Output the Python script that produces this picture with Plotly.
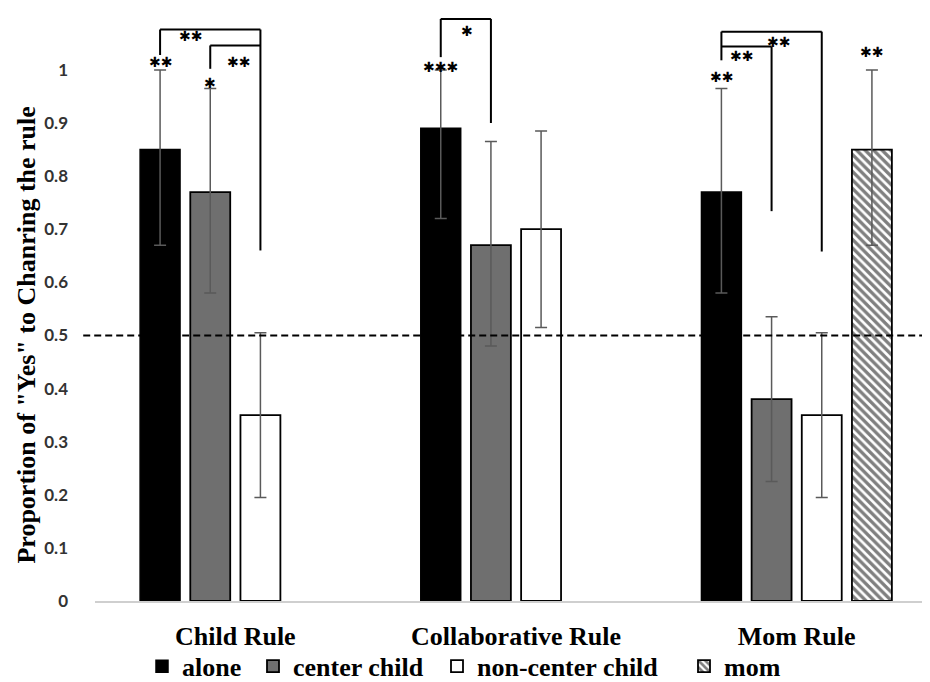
import plotly.graph_objects as go

categories = ["Child Rule", "Collaborative Rule", "Mom Rule"]
series_names = ["alone", "center child", "non-center child", "mom"]
alone = [0.85, 0.89, 0.77]
center_child = [0.77, 0.67, 0.38]
non_center_child = [0.35, 0.70, 0.35]
mom = [None, None, 0.85]
alone_err_plus = [0.15, 0.11, 0.195]
alone_err_minus = [0.18, 0.17, 0.19]
center_err_plus = [0.195, 0.195, 0.155]
center_err_minus = [0.19, 0.19, 0.155]
non_center_err_plus = [0.155, 0.185, 0.155]
non_center_err_minus = [0.155, 0.185, 0.155]
mom_err_plus = [None, None, 0.15]
mom_err_minus = [None, None, 0.18]
y_ticks = [0, 0.1, 0.2, 0.3, 0.4, 0.5, 0.6, 0.7, 0.8, 0.9, 1]
y_tick_labels = ["0", "0.1", "0.2", "0.3", "0.4", "0.5", "0.6", "0.7", "0.8", "0.9", "1"]
y_title = 'Proportion of "Yes" to Chanring the rule'
reference_level = 0.5

# significance brackets: (category index, slot from, slot to, top, left leg bottom, right leg bottom)
brackets = [
    (0, 0, 2, 1.076, 1.028, 0.66),
    (0, 1, 2, 1.046, 1.002, None),
    (1, 0, 1, 1.096, 1.024, 0.90),
    (2, 0, 2, 1.072, 1.018, 0.658),
    (2, 0, 1, 1.044, None, 0.734),
]
# significance marks: (category index, offset within category, y, text)
marks = [
    (0, "s0", 1.015, "✱✱"),
    (0, "s1", 0.976, "✱"),
    (0, -0.159, 1.063, "✱✱"),
    (0, 0.012, 1.015, "✱✱"),
    (1, "s0", 1.006, "✱✱✱"),
    (1, -0.175, 1.074, "✱"),
    (2, "s0", 0.987, "✱✱"),
    (2, -0.196, 1.026, "✱✱"),
    (2, -0.064, 1.052, "✱✱"),
    (2, "s3", 1.033, "✱✱"),
]

BARGAP = 0.285
BARGROUPGAP = 0.204
group_w = 1 - BARGAP
slot_w = group_w / 4
slot_off = [-group_w / 2 + slot_w * (k + 0.5) for k in range(4)]

serif = "Liberation Serif"
err_color = "#5a5a5a"

fig = go.Figure()
specs = [
    (alone, alone_err_plus, alone_err_minus, dict(color="black", line=dict(color="black", width=1.5)), "legend"),
    (center_child, center_err_plus, center_err_minus, dict(color="#6f6f6f", line=dict(color="black", width=1.8)), "legend2"),
    (non_center_child, non_center_err_plus, non_center_err_minus, dict(color="white", line=dict(color="black", width=1.8)), "legend3"),
    (mom, mom_err_plus, mom_err_minus, dict(color="white", line=dict(color="black", width=1.8),
                                           pattern=dict(shape="\\", fgcolor="black", bgcolor="white", size=6, solidity=0.55)), "legend4"),
]
for name, (vals, ep, em, marker, lg) in zip(series_names, specs):
    fig.add_trace(go.Bar(
        name=name, x=categories, y=vals, marker=marker, legend=lg,
        error_y=dict(type="data", symmetric=False, array=ep, arrayminus=em,
                     color=err_color, thickness=1.5, width=6),
    ))

# reference dashed line
fig.add_shape(type="line", xref="paper", yref="y", x0=-0.014, x1=1, y0=reference_level, y1=reference_level,
              line=dict(color="black", width=2, dash="7px,4px"), layer="above")

def sx(cat, s):
    return cat + slot_off[s]

for cat, s0, s1, top, lb, rb in brackets:
    x0, x1 = sx(cat, s0), sx(cat, s1)
    fig.add_shape(type="line", x0=x0, x1=x1, y0=top, y1=top, line=dict(color="black", width=2))
    if lb is not None:
        fig.add_shape(type="line", x0=x0, x1=x0, y0=lb, y1=top, line=dict(color="black", width=2))
    if rb is not None:
        fig.add_shape(type="line", x0=x1, x1=x1, y0=rb, y1=top, line=dict(color="black", width=2))

for cat, off, yv, txt in marks:
    xv = sx(cat, int(off[1])) if isinstance(off, str) else cat + off
    fig.add_annotation(x=xv, y=yv, text=txt, showarrow=False, xanchor="center", yanchor="middle",
                       font=dict(family="DejaVu Sans", size=14, color="black"))

fig.add_annotation(xref="paper", yref="paper", x=-0.081, y=0.449, text=y_title, textangle=-90,
                   showarrow=False, xanchor="center", yanchor="middle",
                   font=dict(family=serif, size=26, color="black", weight="bold"))

leg_x_px = [134, 245, 429, 676]
plot_w = 930 - 87 - 1
legs = {}
for i, px in enumerate(leg_x_px):
    key = "legend" if i == 0 else f"legend{i + 1}"
    legs[key] = dict(orientation="h", yanchor="middle", xanchor="left", y=-0.11,
                     x=(px - 87) / plot_w, bgcolor="rgba(0,0,0,0)", itemwidth=30,
                     font=dict(family=serif, size=26, color="black", weight="bold"))

fig.update_layout(
    width=930, height=682,
    margin=dict(l=87, r=1, t=0, b=78),
    paper_bgcolor="white", plot_bgcolor="white",
    barmode="group", bargap=BARGAP, bargroupgap=BARGROUPGAP,
    showlegend=True,
    xaxis=dict(type="category", showgrid=False, showline=True, linecolor="#cfcfcf", linewidth=1.5,
               ticks="", ticklabelstandoff=11, range=[-0.5, 2.5],
               tickfont=dict(family=serif, size=26, color="black", weight="bold")),
    yaxis=dict(range=[0, 1.1165], tickvals=y_ticks, ticktext=y_tick_labels, showgrid=False,
               zeroline=False, showline=False, ticks="", ticklabelstandoff=26,
               tickfont=dict(family="Lato", size=17, color="#333333", weight="bold")),
    **legs,
)

fig.write_html("out.html")
